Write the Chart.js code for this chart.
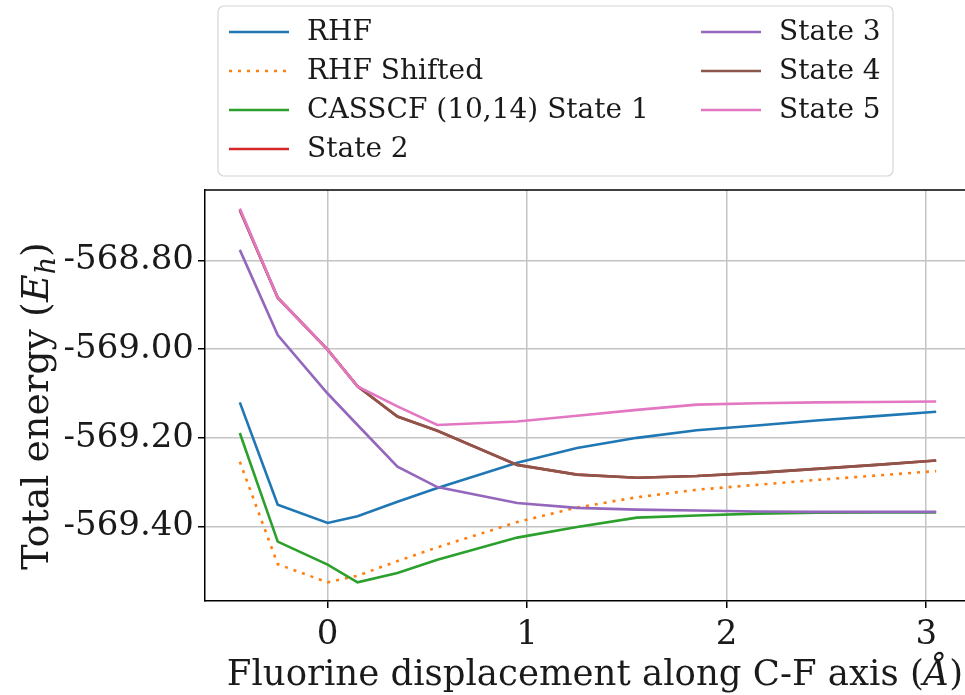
<!DOCTYPE html>
<html>
<head>
<meta charset="utf-8">
<script src="https://cdn.jsdelivr.net/npm/chart.js@4.4.1/dist/chart.umd.min.js"></script>
<style>
  html, body { margin: 0; padding: 0; background: #fff; overflow: hidden; }
  canvas { display: block; }
</style>
</head>
<body>
<canvas id="energyChart" width="980" height="695"></canvas>
<script>
// Fluorine displacement along the C-F axis (Angstrom)
const displacement = [-0.44, -0.25, 0, 0.15, 0.35, 0.55, 0.95, 1.25, 1.55, 1.85, 2.15, 2.45, 2.75, 3.05];

// Total energies (Hartree)
const rhf        = [-569.120, -569.351, -569.392, -569.377, -569.344, -569.313, -569.256, -569.223, -569.200, -569.183, -569.172, -569.161, -569.151, -569.141];
const rhfShifted = [-569.254, -569.485, -569.526, -569.511, -569.478, -569.447, -569.390, -569.357, -569.334, -569.317, -569.306, -569.295, -569.285, -569.275];
const state1     = [-569.189, -569.434, -569.486, -569.526, -569.505, -569.475, -569.425, -569.401, -569.380, -569.375, -569.371, -569.369, -569.368, -569.368];
const state2     = [-568.686, -568.884, -569.001, -569.084, -569.152, -569.184, -569.261, -569.283, -569.290, -569.286, -569.279, -569.270, -569.261, -569.251];
const state3     = [-568.776, -568.968, -569.100, -569.171, -569.265, -569.311, -569.347, -569.358, -569.362, -569.364, -569.366, -569.367, -569.367, -569.367];
const state4     = [-568.686, -568.884, -569.001, -569.084, -569.152, -569.184, -569.261, -569.283, -569.290, -569.286, -569.279, -569.270, -569.261, -569.251];
const state5     = [-568.683, -568.884, -569.001, -569.084, -569.129, -569.171, -569.163, -569.150, -569.137, -569.125, -569.122, -569.120, -569.119, -569.118];

const xTicks = [0, 1, 2, 3];
const yTicks = [-569.40, -569.20, -569.00, -568.80];

const FONT = "'DejaVu Serif', 'Liberation Serif', serif";

function pts(ys) {
    return displacement.map((x, i) => ({ x: x, y: ys[i] }));
}

function series(label, ys, color, order, dash) {
    return {
        label: label,
        data: pts(ys),
        borderColor: color,
        backgroundColor: color,
        borderWidth: 2.6,
        borderDash: dash || [],
        pointRadius: 0,
        tension: 0,
        order: order
    };
}

// legend, axis titles and top frame line, drawn like matplotlib does
const decorations = {
    id: 'decorations',
    afterDraw(chart) {
        const ctx = chart.ctx;
        const area = chart.chartArea;

        // top spine
        ctx.save();
        ctx.strokeStyle = '#000';
        ctx.lineWidth = 1.5;
        ctx.beginPath();
        ctx.moveTo(area.left, area.top);
        ctx.lineTo(area.right + 5, area.top);
        ctx.stroke();
        ctx.restore();

        // y axis title: Total energy (E_h)
        ctx.save();
        ctx.translate(35, 406);
        ctx.rotate(-Math.PI / 2);
        ctx.fillStyle = '#1a1a1a';
        ctx.textBaseline = 'alphabetic';
        const yb = '38px ' + FONT, yi = 'italic 38px ' + FONT, ys = 'italic 27px ' + FONT;
        const parts = [['Total energy (', yb, 0], ['E', yi, 0], ['h', ys, 7], [')', yb, 0]];
        let total = 0;
        parts.forEach(p => { ctx.font = p[1]; total += ctx.measureText(p[0]).width; });
        let x = -total / 2;
        parts.forEach(p => {
            ctx.font = p[1];
            ctx.fillText(p[0], x, 13 + p[2]);
            x += ctx.measureText(p[0]).width;
        });
        ctx.restore();

        // x axis title
        ctx.save();
        ctx.fillStyle = '#1a1a1a';
        ctx.textBaseline = 'alphabetic';
        const xb = '35.5px ' + FONT, xi = 'italic 35.5px ' + FONT;
        const xparts = [['Fluorine displacement along C-F axis (', xb], ['\u00C5', xi], [')', xb]];
        total = 0;
        xparts.forEach(p => { ctx.font = p[1]; total += ctx.measureText(p[0]).width; });
        x = 595 - total / 2;
        xparts.forEach(p => {
            ctx.font = p[1];
            ctx.fillText(p[0], x, 685);
            x += ctx.measureText(p[0]).width;
        });
        ctx.restore();

        // legend box
        ctx.save();
        const bx = 218, by = 6, bw = 675, bh = 170, r = 6;
        ctx.beginPath();
        ctx.moveTo(bx + r, by);
        ctx.arcTo(bx + bw, by, bx + bw, by + bh, r);
        ctx.arcTo(bx + bw, by + bh, bx, by + bh, r);
        ctx.arcTo(bx, by + bh, bx, by, r);
        ctx.arcTo(bx, by, bx + bw, by, r);
        ctx.closePath();
        ctx.fillStyle = 'rgba(255,255,255,0.8)';
        ctx.fill();
        ctx.strokeStyle = '#d6d6d6';
        ctx.lineWidth = 1.2;
        ctx.stroke();

        const rows = [32, 71, 110, 149];
        ctx.font = '28px ' + FONT;
        ctx.textBaseline = 'middle';
        chart.data.datasets.forEach((ds, i) => {
            const col = i < 4 ? 0 : 1;
            const y = rows[col === 0 ? i : i - 4];
            const hx = col === 0 ? 229 : 701;
            ctx.strokeStyle = ds.borderColor;
            ctx.lineWidth = ds.borderWidth;
            ctx.setLineDash(ds.borderDash);
            ctx.beginPath();
            ctx.moveTo(hx, y);
            ctx.lineTo(hx + 60, y);
            ctx.stroke();
            ctx.setLineDash([]);
            ctx.fillStyle = '#1a1a1a';
            ctx.fillText(ds.label, hx + 78, y + 1);
        });
        ctx.restore();
    }
};

const ctx = document.getElementById('energyChart').getContext('2d');
const energyChart = new Chart(ctx, {
    type: 'line',
    data: {
        datasets: [
            series('RHF', rhf, '#1f77b4', 6),
            series('RHF Shifted', rhfShifted, '#ff7f0e', 5, [3, 6]),
            series('CASSCF (10,14) State 1', state1, '#2ca02c', 4),
            series('State 2', state2, '#d62728', 3),
            series('State 3', state3, '#9467bd', 2),
            series('State 4', state4, '#8c564b', 1),
            series('State 5', state5, '#e377c2', 0)
        ]
    },
    options: {
        responsive: false,
        animation: false,
        layout: { padding: { top: 190, right: 9, left: 0, bottom: 0 } },
        plugins: {
            legend: { display: false },
            tooltip: { enabled: false }
        },
        scales: {
            x: {
                type: 'linear',
                min: -0.6145,
                max: 3.2245,
                afterFit(scale) { scale.height = 94; },
                afterBuildTicks(scale) { scale.ticks = xTicks.map(v => ({ value: v })); },
                grid: { color: '#c4c4c4', lineWidth: 1.5, tickColor: '#000', tickLength: 7 },
                border: { color: '#000', width: 1.5 },
                ticks: {
                    color: '#1a1a1a',
                    padding: 7,
                    font: { family: FONT, size: 34 },
                    callback: v => String(v)
                }
            },
            y: {
                type: 'linear',
                min: -569.568,
                max: -568.641,
                afterFit(scale) { scale.width = 205; },
                afterBuildTicks(scale) { scale.ticks = yTicks.map(v => ({ value: v })); },
                grid: { color: '#c4c4c4', lineWidth: 1.5, tickColor: '#000', tickLength: 7 },
                border: { color: '#000', width: 1.5 },
                ticks: {
                    color: '#1a1a1a',
                    padding: 4,
                    font: { family: FONT, size: 34 },
                    callback: v => v.toFixed(2)
                }
            }
        }
    },
    plugins: [decorations]
});
</script>
</body>
</html>
